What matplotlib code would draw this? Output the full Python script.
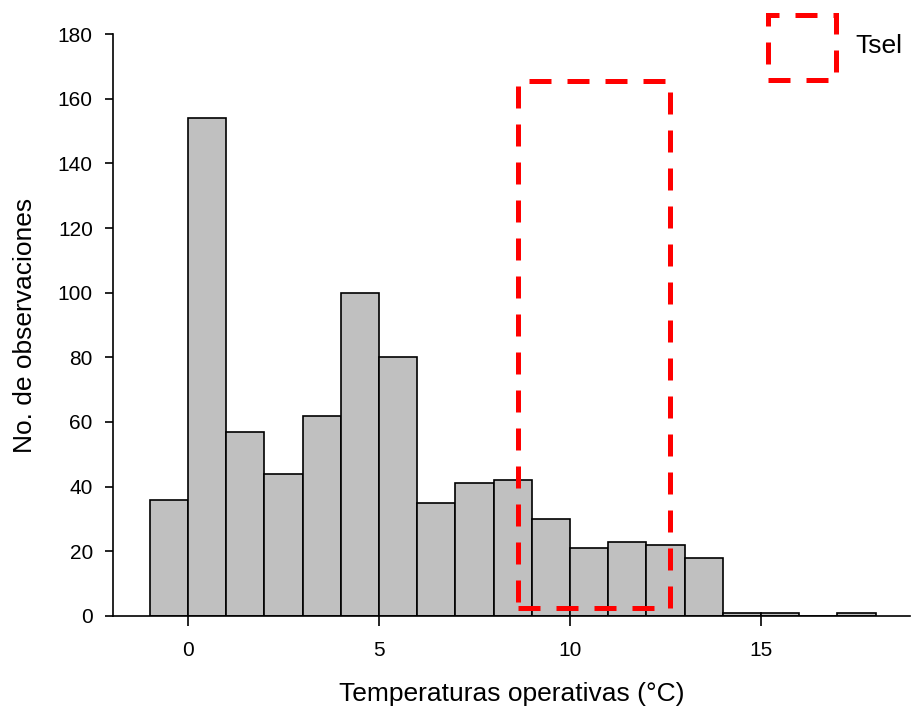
import numpy as np
import matplotlib
matplotlib.use('Agg')
import matplotlib.pyplot as plt
from matplotlib.patches import Rectangle

plt.rcParams['font.family'] = ['Liberation Sans', 'DejaVu Sans']

# Histogram bins (°C) and counts
bin_edges = np.arange(-1, 19, 1)
counts = [36, 154, 57, 44, 62, 100, 80, 35, 41, 42, 30, 21, 23, 22, 18, 1, 1, 0, 1]

# Tsel range (selected temperature) and box height
tsel_low, tsel_high = 8.65, 12.62
tsel_bottom, tsel_top = 2.6, 165.5

fig = plt.figure(figsize=(9.15, 7.15), dpi=100)
ax = fig.add_axes([0.1235, 0.1385, 0.871, 0.8139])

ax.bar(bin_edges[:-1], counts, width=1, align='edge',
       color='#c0c0c0', edgecolor='black', linewidth=1.2)

dash = (0, (4.4, 3.2))
ax.add_patch(Rectangle((tsel_low, tsel_bottom), tsel_high - tsel_low,
                       tsel_top - tsel_bottom, fill=False, edgecolor='red',
                       linewidth=3.6, linestyle=dash, zorder=5))

ax.set_xlim(-1.96, 18.9)
ax.set_ylim(0, 180)
ax.set_xticks([0, 5, 10, 15])
ax.set_yticks(range(0, 181, 20))
ax.tick_params(direction='out', width=1.2, labelsize=15)
ax.tick_params(axis='x', length=7, pad=11)
ax.tick_params(axis='y', length=5.5, pad=9)
for s in ['top', 'right']:
    ax.spines[s].set_visible(False)
for s in ['left', 'bottom']:
    ax.spines[s].set_linewidth(1.2)

ax.set_xlabel('Temperaturas operativas (°C)', fontsize=19, labelpad=16)
ax.set_ylabel('No. de observaciones', fontsize=19, labelpad=15)

# legend drawn by hand
fig.add_artist(Rectangle((768 / 915, 1 - 80 / 715), 68 / 915, 65 / 715,
                         transform=fig.transFigure, fill=False,
                         edgecolor='red', linewidth=3.6, linestyle=dash))
fig.text(855 / 915, 1 - 46 / 715, 'Tsel', fontsize=19, va='center', ha='left')

fig.savefig('out.png', dpi=100)
